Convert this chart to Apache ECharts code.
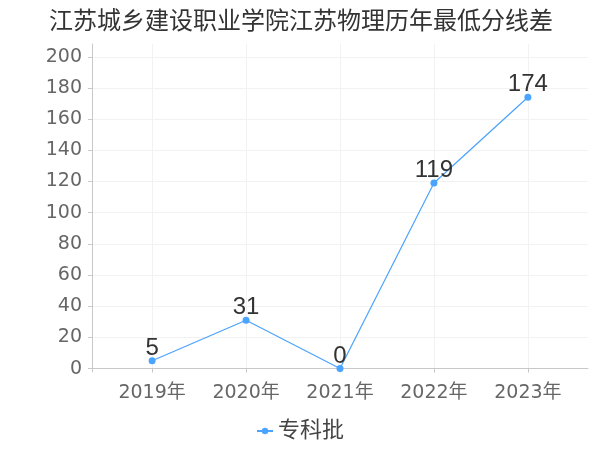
<!DOCTYPE html>
<html>
<head>
<meta charset="utf-8">
<script src="https://cdn.jsdelivr.net/npm/echarts@6/dist/echarts.min.js"></script>
<style>html,body{margin:0;padding:0;background:#fff}#c{width:600px;height:450px}</style>
</head>
<body>
<div id="c"></div>
<script>
var titleText = '江苏城乡建设职业学院江苏物理历年最低分线差';
var years = [2019, 2020, 2021, 2022, 2023];
var seriesName = '专科批';
var values = [5, 31, 0, 119, 174];
var yTicks = [0, 20, 40, 60, 80, 100, 120, 140, 160, 180, 200];

var FONT = '"DejaVu Sans", "Noto Sans CJK SC", sans-serif';
var FONT2 = '"Liberation Sans", "Noto Sans CJK SC", sans-serif';
var chart = echarts.init(document.getElementById('c'), null, {renderer: 'canvas'});
chart.setOption({
  animation: false,
  textStyle: {fontFamily: FONT},
  title: {
    text: titleText,
    left: 44,
    top: 5,
    textStyle: {fontSize: 24, fontWeight: 'normal', color: '#333', fontFamily: FONT2}
  },
  legend: {
    bottom: 3,
    left: 'center',
    itemWidth: 16,
    itemHeight: 8,
    textStyle: {fontSize: 22, color: '#444', fontFamily: FONT2},
    data: [seriesName]
  },
  grid: {left: 92, right: 12, top: 44, bottom: 78, containLabel: false},
  xAxis: {
    type: 'value',
    min: 2018.36,
    max: 2023.64,
    axisLine: {show: true, lineStyle: {color: '#c8c8c8'}},
    axisTick: {show: true, length: 4, customValues: years, lineStyle: {color: '#c8c8c8'}},
    axisLabel: {customValues: years, fontSize: 19, color: '#666', margin: 12, formatter: function (v) { return v + '年'; }},
    splitLine: {show: true, lineStyle: {color: '#f2f2f2'}}
  },
  yAxis: {
    type: 'value',
    min: -2.2,
    max: 208.2,
    axisLine: {show: true, lineStyle: {color: '#c8c8c8'}},
    axisTick: {show: true, length: 4, customValues: yTicks, lineStyle: {color: '#c8c8c8'}},
    axisLabel: {customValues: yTicks, fontSize: 19, color: '#666', margin: 10},
    splitLine: {show: true, lineStyle: {color: '#f2f2f2'}}
  },
  series: [{
    name: seriesName,
    type: 'line',
    data: years.map(function (y, i) { return [y, values[i]]; }),
    symbol: 'circle',
    symbolSize: 7,
    itemStyle: {color: '#4aa3ff'},
    lineStyle: {color: '#4aa3ff', width: 1.2},
    label: {show: true, position: 'top', distance: -3, fontSize: 24, color: '#333', fontFamily: FONT2}
  }]
});
</script>
</body>
</html>
